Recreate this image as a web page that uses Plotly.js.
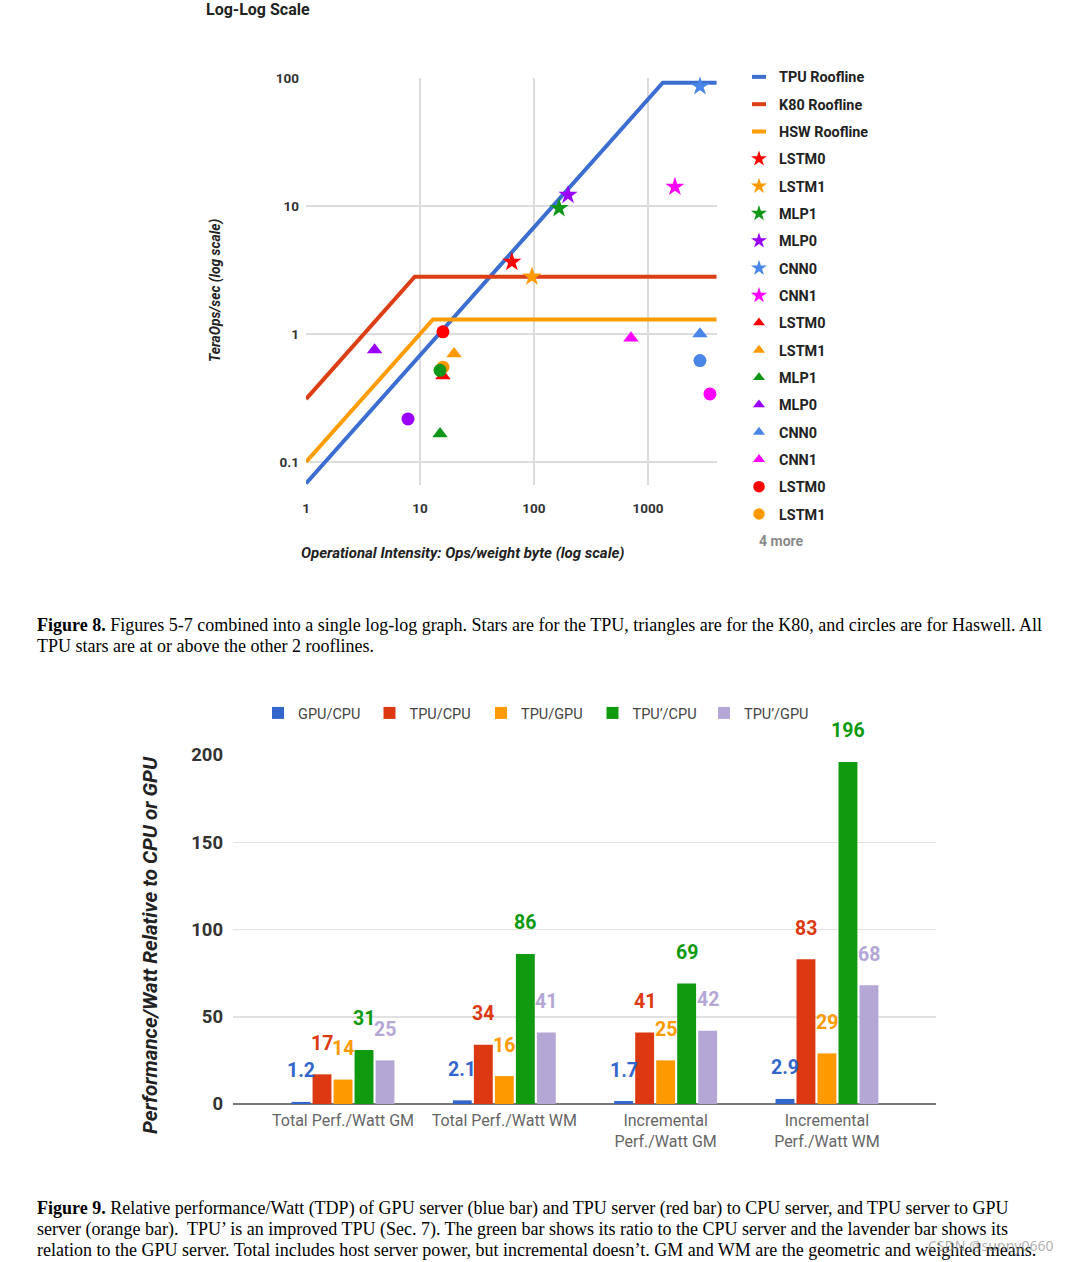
<!DOCTYPE html>
<html>
<head>
<meta charset="utf-8">
<script src="https://cdn.plot.ly/plotly-3.0.1.min.js"></script>
<style>
  html, body { margin: 0; padding: 0; background: #fff; }
  body { width: 1072px; height: 1262px; position: relative; overflow: hidden; }
  #chart1 { position: absolute; left: 0; top: 0; width: 1072px; height: 590px; }
  #chart2 { position: absolute; left: 0; top: 680px; width: 1072px; height: 490px; }
  .cap { position: absolute; left: 37px; font-family: "Liberation Serif", "Times New Roman", serif;
         font-size: 18px; line-height: 21px; color: #000; white-space: nowrap; }
  #cap1 { top: 615px; }
  #cap2 { top: 1198px; }
  #wm { position: absolute; left: 928px; top: 1236px; font-family: "Noto Sans", sans-serif;
        font-size: 14px; color: rgba(150,150,150,0.75); white-space: nowrap; }
</style>
</head>
<body>
<div id="chart1"></div>
<div id="cap1" class="cap"><b>Figure 8.</b> Figures 5-7 combined into a single log-log graph. Stars are for the TPU, triangles are for the K80, and circles are for Haswell. All<br>TPU stars are at or above the other 2 rooflines.</div>
<div id="chart2"></div>
<div id="cap2" class="cap"><b>Figure 9.</b> Relative performance/Watt (TDP) of GPU server (blue bar) and TPU server (red bar) to CPU server, and TPU server to GPU<br>server (orange bar).&nbsp; TPU’ is an improved TPU (Sec. 7). The green bar shows its ratio to the CPU server and the lavender bar shows its<br>relation to the GPU server. Total includes host server power, but incremental doesn’t. GM and WM are the geometric and weighted means.</div>
<div id="wm">CSDN @sunny0660</div>
<script>
// ---------- Figure 8 data ----------
const rooflineNames = ['TPU Roofline', 'K80 Roofline', 'HSW Roofline'];
const tpuRoofX = [1, 1350, 4000];
const tpuRoofY = [0.068, 92, 92];
const k80RoofX = [1, 9, 4000];
const k80RoofY = [0.31, 2.8, 2.8];
const hswRoofX = [1, 13, 4000];
const hswRoofY = [0.1, 1.3, 1.3];

const apps = ['LSTM0', 'LSTM1', 'MLP1', 'MLP0', 'CNN0', 'CNN1'];
const tpuX = [64, 96, 166, 199, 2860, 1725];
const tpuY = [3.65, 2.8, 9.6, 12.2, 86, 14.1];
const k80X = [15.9, 19.9, 15, 4.0, 2860, 710];
const k80Y = [0.47, 0.70, 0.166, 0.75, 1.0, 0.93];
const hswX = [15.9, 15.9, 15, 7.85, 2860, 3500];
const hswY = [1.04, 0.55, 0.52, 0.217, 0.62, 0.34];

const xTickVals = [1, 10, 100, 1000];
const xTickText = ['1', '10', '100', '1000'];
const yTickVals = [0.1, 1, 10, 100];
const yTickText = ['0.1', '1', '10', '100'];

// ---------- Figure 9 data ----------
const groups = ['Total Perf./Watt GM', 'Total Perf./Watt WM', 'Incremental<br>Perf./Watt GM', 'Incremental<br>Perf./Watt WM'];
const seriesNames = ['GPU/CPU', 'TPU/CPU', 'TPU/GPU', 'TPU’/CPU', 'TPU’/GPU'];
const gpuCpu = [1.2, 2.1, 1.7, 2.9];
const tpuCpu = [17, 34, 41, 83];
const tpuGpu = [14, 16, 25, 29];
const tpupCpu = [31, 86, 69, 196];
const tpupGpu = [25, 41, 42, 68];
const barLabels = [['1.2', '2.1', '1.7', '2.9'], ['17', '34', '41', '83'], ['14', '16', '25', '29'], ['31', '86', '69', '196'], ['25', '41', '42', '68']];
const bar2TickVals = [0, 50, 100, 150, 200];

// ---------- styles ----------
const roofColors = ['#3c6dd0', '#dc3f16', '#ff9c00'];
const appColors = ['#ff0000', '#ff9900', '#109618', '#9900ff', '#4a86e8', '#ff00ff'];
const barColors = ['#3366cc', '#dc3912', '#ff9900', '#0f9a0f', '#b4a7d6'];
const FONT = 'Roboto, "Open Sans", sans-serif';

// ---------- Figure 8 ----------
const traces1 = [];
const roofX = [tpuRoofX, k80RoofX, hswRoofX];
const roofY = [tpuRoofY, k80RoofY, hswRoofY];
for (let i = 0; i < 3; i++) {
  traces1.push({ type: 'scatter', mode: 'lines', x: roofX[i], y: roofY[i], name: rooflineNames[i],
    line: { color: roofColors[i], width: 4 }, showlegend: false, hoverinfo: 'skip' });
}
const pointSets = [
  { xs: tpuX, ys: tpuY, symbol: 'star', size: 14.5, legSize: 12, key: 's' },
  { xs: k80X, ys: k80Y, symbol: 'triangle-up', size: 13.5, legSize: 10.5, key: 't' },
  { xs: hswX, ys: hswY, symbol: 'circle', size: 13, legSize: 11.5, key: 'c' }
];
pointSets.forEach((ps) => {
  apps.forEach((app, k) => {
    traces1.push({ type: 'scatter', mode: 'markers', x: [ps.xs[k]], y: [ps.ys[k]], name: app,
      showlegend: false, cliponaxis: false, hoverinfo: 'skip',
      marker: { symbol: ps.symbol, size: ps.size, color: appColors[k], line: { width: 0 } } });
  });
});
// legend entries (legend-only symbols, sized like the reference legend)
for (let i = 0; i < 3; i++) {
  traces1.push({ type: 'scatter', mode: 'markers', x: [null], y: [null], name: rooflineNames[i],
    legendgroup: 'r' + i, marker: { symbol: 'line-ew', size: 10, color: roofColors[i], line: { color: roofColors[i], width: 4 } } });
}
pointSets.forEach((ps, si) => {
  apps.forEach((app, k) => {
    if (si === 2 && k >= 2) return; // collapsed into "4 more"
    traces1.push({ type: 'scatter', mode: 'markers', x: [null], y: [null], name: app,
      legendgroup: ps.key + k,
      marker: { symbol: ps.symbol, size: ps.legSize, color: appColors[k], line: { width: 0 } } });
  });
});

const layout1 = {
  width: 1072, height: 590,
  margin: { l: 306, r: 355, t: 78, b: 105 },
  paper_bgcolor: '#fff', plot_bgcolor: '#fff',
  font: { family: FONT, color: '#333' },
  title: { text: 'Log-Log Scale', x: 206 / 1072, xanchor: 'left', xref: 'container', yref: 'container',
           y: 1 - 9 / 590, yanchor: 'middle', font: { size: 16, weight: 'bold', color: '#222', family: FONT } },
  xaxis: { type: 'log', range: [0, 3.606], tickvals: xTickVals, ticktext: xTickText,
           showgrid: true, gridcolor: '#dcdcdc', gridwidth: 1.5, zeroline: false, showline: false, ticks: '',
           ticklabelstandoff: 13, tickfont: { size: 13.5, weight: 'bold', color: '#333', family: FONT } },
  yaxis: { type: 'log', range: [-1.18, 2], tickvals: yTickVals, ticktext: yTickText,
           showgrid: true, gridcolor: '#dcdcdc', gridwidth: 1.5, zeroline: false, showline: false, ticks: '',
           ticklabelstandoff: 6, tickfont: { size: 13.5, weight: 'bold', color: '#333', family: FONT } },
  showlegend: true,
  legend: { x: (739 - 306) / 411, xanchor: 'left', y: (485 - 61) / 407, yanchor: 'top',
            tracegroupgap: 5.6, itemsizing: 'trace', bgcolor: 'rgba(0,0,0,0)', maxheight: 560,
            font: { size: 14.4, weight: 'bold', color: '#222', family: FONT } },
  annotations: [
    { text: 'TeraOps/sec (log scale)', xref: 'paper', yref: 'paper', x: 0, xshift: -91, y: (485 - 291) / 407,
      textangle: -90, showarrow: false, xanchor: 'center', yanchor: 'middle',
      font: { size: 13.8, weight: 'bold', style: 'italic', color: '#222', family: FONT } },
    { text: 'Operational Intensity: Ops/weight byte (log scale)', xref: 'paper', yref: 'paper',
      x: (462 - 306) / 411, y: (485 - 553) / 407, showarrow: false, xanchor: 'center', yanchor: 'middle',
      font: { size: 15, weight: 'bold', style: 'italic', color: '#222', family: FONT } },
    { text: '4 more', xref: 'paper', yref: 'paper', x: (757 - 306) / 411, y: (485 - 541) / 407,
      showarrow: false, xanchor: 'left', yanchor: 'middle',
      font: { size: 14, weight: 'bold', color: '#8a8a8a', family: FONT } }
  ]
};

Plotly.newPlot('chart1', traces1, layout1, { staticPlot: true, displayModeBar: false });

// ---------- Figure 9 ----------
const seriesVals = [gpuCpu, tpuCpu, tpuGpu, tpupCpu, tpupGpu];
const BARGAP = 0.349;
const traces2 = seriesVals.map((vals, i) => ({
  type: 'bar', x: groups, y: vals, name: seriesNames[i],
  marker: { color: barColors[i], line: { width: 0 } }, hoverinfo: 'skip'
}));
const slot = (1 - BARGAP) / seriesVals.length;
const annots2 = [];
seriesVals.forEach((vals, i) => {
  vals.forEach((v, j) => {
    annots2.push({ xref: 'x', yref: 'y', x: j + (i - (seriesVals.length - 1) / 2) * slot, y: v,
      text: barLabels[i][j], showarrow: false, xanchor: 'center', yanchor: 'middle', yshift: 31,
      font: { size: 19.5, weight: 'bold', color: barColors[i], family: FONT } });
  });
});
annots2.push({ text: 'Performance/Watt Relative to CPU or GPU', xref: 'paper', yref: 'paper',
  x: 0, xshift: -83, y: (1104 - 945) / 349, textangle: -90, showarrow: false,
  xanchor: 'center', yanchor: 'middle',
  font: { size: 20.5, weight: 'bold', style: 'italic', color: '#222', family: FONT } });

const layout2 = {
  width: 1072, height: 490,
  margin: { l: 233, r: 136, t: 75, b: 66 },
  paper_bgcolor: '#fff', plot_bgcolor: '#fff',
  font: { family: FONT, color: '#444' },
  barmode: 'group', bargap: BARGAP, bargroupgap: 0.1,
  xaxis: { type: 'category', range: [-0.682, 3.676], showgrid: false, zeroline: false, showline: false,
           ticks: '', ticklabelstandoff: 5, tickfont: { size: 16, color: '#666', family: FONT } },
  yaxis: { range: [0, 200], tickvals: bar2TickVals, showgrid: true, gridcolor: '#e2e2e2', gridwidth: 1.5,
           zeroline: true, zerolinecolor: '#777', zerolinewidth: 2, ticks: '', ticklabelstandoff: 9,
           tickfont: { size: 18.5, weight: 'bold', color: '#333', family: FONT } },
  showlegend: true,
  legend: { orientation: 'h', x: (258 - 233) / 703, xanchor: 'left', y: 1 + (755 - 713) / 349, yanchor: 'middle',
            entrywidth: 66.5, entrywidthmode: 'pixels', bgcolor: 'rgba(0,0,0,0)',
            font: { size: 14.5, color: '#444', family: FONT } },
  annotations: annots2
};

Plotly.newPlot('chart2', traces2, layout2, { staticPlot: true, displayModeBar: false });
</script>
</body>
</html>
